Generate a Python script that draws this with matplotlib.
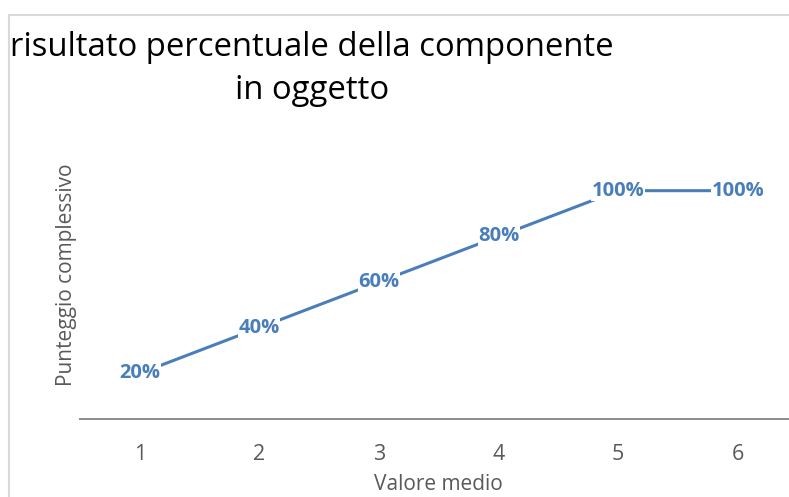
import matplotlib.pyplot as plt
from matplotlib.patches import Rectangle

plt.rcParams['font.family'] = ['Open Sans', 'DejaVu Sans']

valori = [1, 2, 3, 4, 5, 6]
punteggio = [0.2, 0.4, 0.6, 0.8, 1.0, 1.0]
etichette = ['20%', '40%', '60%', '80%', '100%', '100%']

blu = '#4A7EBB'
grigio = '#595959'

W, H = 789, 497
fig = plt.figure(figsize=(W / 100, H / 100), dpi=100)

# plot area: x from 80px to ~798px, y from 145px to 419px
ax = fig.add_axes([80 / W, (H - 419) / H, 717.6 / W, 274 / H])
ax.plot(valori, punteggio, color=blu, lw=2.2, solid_capstyle='butt', zorder=2)
for x, y, t in zip(valori, punteggio, etichette):
    ax.text(x, y, t, ha='center', va='center', color=blu, fontsize=14.5,
            fontweight='bold', zorder=3,
            bbox=dict(facecolor='white', edgecolor='none', pad=0.3))

ax.set_xlim(0.5, 6.5)
ax.set_ylim(0, 1.2)
ax.set_xticks(valori)
ax.set_xticklabels([str(v) for v in valori])
ax.set_yticks([])
for s in ['top', 'right', 'left']:
    ax.spines[s].set_visible(False)
ax.spines['bottom'].set_color('#8C8C8C')
ax.spines['bottom'].set_linewidth(1.4)
ax.tick_params(axis='x', length=0, pad=18, labelsize=15.5, labelcolor=grigio)
ax.set_xlabel('Valore medio', fontsize=15, color=grigio, labelpad=6.5)
ax.set_ylabel('Punteggio complessivo', fontsize=15, color=grigio)
ax.yaxis.set_label_coords(-0.004, 0.525)

fig.text(312 / W, 1 - 69 / H, 'risultato percentuale della componente\nin oggetto',
         ha='center', va='center', multialignment='center', fontsize=23.7,
         color='black', linespacing=1.38)

# chart frame (cropped on the right and bottom)
fig.patches.append(Rectangle((9 / W, -0.1), 1.2, 1.1 - 15 / H, transform=fig.transFigure,
                             fill=False, edgecolor='#D9D9D9', lw=1.5, clip_on=False))

fig.savefig('out.png', dpi=100)
